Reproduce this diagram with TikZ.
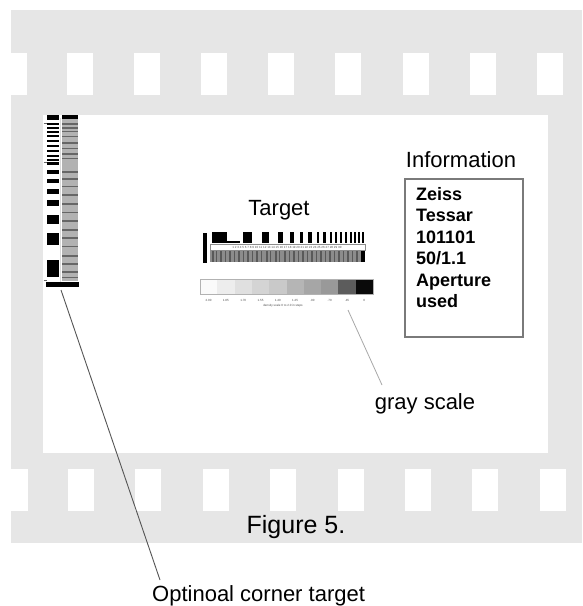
\documentclass[tikz,border=0pt]{standalone}
\usepackage{fontspec}
\setmainfont{Liberation Sans}
\definecolor{filmgray}{HTML}{E6E6E6}
\definecolor{boxgray}{HTML}{7A7A7A}
\definecolor{stripegray}{HTML}{8C8C8C}
\definecolor{leadgray}{HTML}{555555}
\definecolor{lightlead}{HTML}{A8A8A8}
\tikzset{
  hole/.style={fill=white},
  blk/.style={fill=black},
  lbl/.style={font=\fontsize{22}{24}\selectfont, inner sep=0pt},
  infoline/.style={font=\fontsize{18}{20}\selectfont\bfseries, inner sep=0pt, anchor=base west},
  tiny/.style={font=\fontsize{3}{3.5}\selectfont, text=black!70, inner sep=0pt}
}
\begin{document}
\begin{tikzpicture}[x=1pt,y=-1pt]
\useasboundingbox (0,0) rectangle (582,606);
\fill[white] (0,0) rectangle (582,606);
% film strip
\fill[filmgray] (11,10) rectangle (582,543);
\fill[white] (43,115) rectangle (548,453);
% sprocket holes
\fill[hole] (11,53) rectangle (27,95);
\foreach \i in {0,...,7} {
  \fill[hole] ({67+67.1*\i},53) rectangle ++(26,42);
}
\fill[hole] (11,469) rectangle (28,511);
\foreach \i in {0,...,7} {
  \fill[hole] ({68+67.4*\i},469) rectangle ++(26,42);
}
% ---------- corner target ----------
\fill[black!30] (62,119) rectangle (78,281);
\foreach \y/\h in {123/1.5,127/1.5,131/1.2,136/1.2,142/1.5,148/1,153/1.5,158/1,171/2,178/1.5,186/1,194/2,203/1.5,212/1,220/2,229/1.5,237/2,246/1,255/1.5,263/2,271/1.5,277/1} {
  \fill[black!60] (62,\y) rectangle (78,\y+\h);
}
\fill[black!15] (60,118) rectangle (61,282);
\fill[blk] (47,115) rectangle (59,120);
\fill[blk] (62,115) rectangle (78,119);
\foreach \y in {123,127,131,135,140,145,150,155,159} {
  \fill[blk] (47,\y) rectangle (59,\y+2);
}
\foreach \a/\b in {162/165,170/174,179/183,189/194,200/206,215/224,233/245,260/277} {
  \fill[blk] (47,\a) rectangle (59,\b);
}
\foreach \y in {123,162,280} {
  \draw[black!60, line width=0.6] (43.5,\y) -- (46.5,\y);
}
\fill[blk] (46,282) rectangle (79,287);
% ---------- main target ----------
\node[lbl] (targetlbl) at (279,210) {Target};
\fill[blk] (203,233) rectangle (207,263);
\foreach \a/\b in {212/227,243/252,262/269,278/283,290/294,300/303,308/311.5,316.5/319,323/325.5,330/332,335/337,340/342,345/347,350/352,354/356,358/360,362/364} {
  \fill[blk] (\a,232) rectangle (\b,243);
}
\fill[blk] (227,241) rectangle (240,242.5);
\draw[black!45, line width=0.4] (210,244.5) rectangle (365,250);
\node[tiny] (tgtsmall) at (287,247.2) {1 2 3 4 5 6 7 8 9 10 11 12 13 14 15 16 17 18 19 20 21 22 23 24 25 26 27 28 29 30};
\fill[stripegray] (210,251) rectangle (365,262);
\foreach \x/\w in {212/1.5,216/1,220/2,225/1,229/1.5,234/1,238/2,243/1,247/1.5,252/1,256/2,261/1,266/1.5,270/1,275/2,279/1,284/1.5,289/1,293/2,298/1,302/1.5,307/1,311/2,316/1,320/1.5,325/1,329/2,334/1,338/1.5,343/1,347/2,352/1,356/1.5} {
  \fill[black!65] (\x,251) rectangle (\x+\w,262);
}
\fill[blk] (361,251) rectangle (365,262);
% gray scale
\foreach \c [count=\i from 0] in {2,7,12,17,21,29,35,40,64,96} {
  \fill[black!\c] ({200+17.3*\i},279) rectangle ({200+17.3*(\i+1)},294);
}
\draw[black!30, line width=0.4] (200,279) rectangle (373,294);
\foreach \t [count=\i from 0] in {2.00,1.85,1.70,1.55,1.40,1.25,.90,.70,.45,0} {
  \node[tiny, name=gslab\i] at ({208.6+17.3*\i},300) {\t};
}
\node[tiny] (gsnote) at (283,306) {density scale  0  to  2.0 in steps};
% gray scale label
\coordinate (gstip) at (348,310);
\coordinate (gsend) at (382,385);
\draw[lightlead, line width=0.8] (gstip) -- (gsend);
\node[lbl] (gslbl) at (425,404) {gray scale};
% ---------- information ----------
\node[lbl] (infolbl) at (461,160) {Information};
\node[draw=boxgray, line width=1.3, minimum width=118pt, minimum height=158pt, inner sep=0pt] (infobox) at (464,258) {};
\foreach \t [count=\i from 0] in {Zeiss,Tessar,101101,50/1.1,Aperture,used} {
  \node[infoline, name=info\i] at (416,{200+21.5*\i}) {\t};
}
% ---------- captions ----------
\node[font=\fontsize{25}{27}\selectfont, inner sep=0pt] (fig) at (296,527) {Figure 5.};
\node[lbl, anchor=base west] (cornerlbl) at (152,601) {Optinoal corner target};
\coordinate (cornertip) at (61,290);
\coordinate (cornerend) at (160,580);
\draw[leadgray, line width=0.9] (cornertip) -- (cornerend);
\end{tikzpicture}
\end{document}
